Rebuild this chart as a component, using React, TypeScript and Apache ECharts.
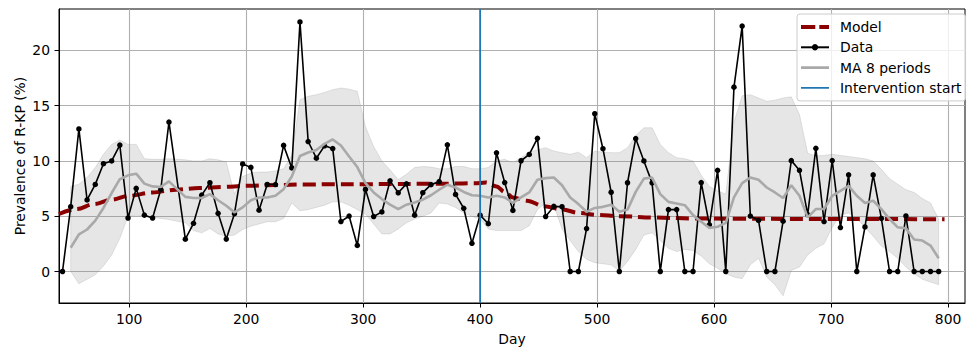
import React, { useEffect, useRef } from "react";
import * as echarts from "echarts";

// Weekly observation days (week of day 141 has no observation)
const days = [
  43, 50, 57, 64, 71, 78, 85, 92, 99, 106, 113, 120, 127, 134,
  148, 155, 162, 169, 176, 183, 190, 197, 204, 211, 218, 225, 232, 239, 246,
  253, 260, 267, 274, 281, 288, 295, 302, 309, 316, 323, 330, 337, 344, 351,
  358, 365, 372, 379, 386, 393, 400, 407, 414, 421, 428, 435, 442, 449, 456,
  463, 470, 477, 484, 491, 498, 505, 512, 519, 526, 533, 540, 547, 554, 561, 568, 575, 582,
  589, 596, 603, 610, 617, 624, 631, 638, 645, 652, 659, 666, 673, 680, 687, 694,
  701, 708, 715, 722, 729, 736, 743, 750, 757, 764, 771, 778, 785, 792,
];

const prevalence = [
  0, 5.86, 12.9, 6.47, 7.88, 9.75, 10.0, 11.44, 4.84, 7.52, 5.1, 4.84, 7.42, 13.52,
  2.92, 4.36, 6.91, 8.03, 5.26, 2.93, 5.23, 9.73, 9.42, 5.55, 7.88, 7.87, 11.41, 9.37, 22.58,
  11.76, 10.25, 11.37, 11.12, 4.52, 5.02, 2.36, 7.43, 4.97, 5.39, 8.2, 7.12, 7.93, 5.09, 7.13,
  7.86, 8.13, 11.46, 6.97, 5.72, 2.55, 5.09, 4.33, 10.74, 8.05, 5.53, 10.02, 10.59, 12.05, 4.97,
  5.89, 5.86, 0, 0, 3.88, 14.28, 11.11, 7.17, 0, 8.03, 12.03, 10.0, 8.02, 0, 5.6, 5.6, 0, 0,
  8.05, 4.22, 9.15, 0, 16.68, 22.21, 5.02, 4.62, 0, 0, 4.55, 10.03, 9.16, 5.15, 11.14, 4.52,
  10.04, 3.98, 8.75, 0, 4.03, 8.74, 4.8, 0, 0, 5.03, 0, 0, 0, 0,
];

const movingAverage = [
  null, 2.15, 3.35, 3.8, 4.6, 5.75, 7.1, 8.35, 8.7, 8.85, 7.95, 7.7, 7.65, 8.15,
  6.75, 6.65, 6.65, 7.0, 6.45, 5.95, 5.35, 5.8, 6.45, 6.7, 6.7, 6.85, 7.45, 8.6, 10.45,
  10.76, 11.0, 11.55, 11.95, 11.4, 10.4, 9.45, 8.0, 7.15, 6.55, 6.05, 5.65, 6.05, 6.25, 6.5,
  6.9, 7.4, 7.85, 7.6, 7.2, 6.9, 6.85, 6.7, 6.85, 6.7, 6.2, 6.7, 7.15, 8.3, 8.45,
  8.5, 7.8, 6.7, 6.1, 5.4, 5.75, 5.85, 6.05, 5.4, 5.6, 7.2, 8.4, 8.5, 7.0, 6.3, 6.15, 6.0, 5.1,
  4.5, 3.95, 4.05, 4.4, 6.7, 8.0, 8.5, 8.3, 7.6, 7.15, 6.65, 7.8, 6.85, 4.9, 5.65, 5.65,
  6.85, 7.3, 7.75, 6.85, 6.2, 6.4, 5.65, 4.75, 4.0, 3.9, 2.9, 2.8, 2.35, 1.2,
];

const bandUpper = [
  null, 7.7, 7.9, 8.5, 9.4, 10.6, 11.5, 11.9, 11.5, 11.5, 10.2, 10.15, 10.15, 10.2,
  10.1, 10.0, 10.0, 10.2, 10.1, 9.9, 7.0, 8.6, 8.9, 9.0, 9.0, 9.1, 9.3, 10.5, 15.55,
  15.85, 16.0, 16.2, 16.45, 16.6, 16.5, 16.3, 13.1, 11.3, 10.0, 9.2, 8.3, 8.8, 9.4, 9.5,
  9.45, 9.3, 9.3, 9.5, 9.5, 9.3, 9.3, 9.4, 10.0, 10.15, 9.85, 10.3, 10.8, 11.0, 11.2,
  10.9, 10.75, 10.6, 10.8, 10.3, 10.9, 10.8, 10.75, 10.75, 11.2, 12.3, 13.0, 13.0, 11.5, 10.75, 10.3, 10.2, 10.0,
  8.7, 7.7, 7.3, 7.0, 13.5, 15.9, 16.0, 15.7, 15.4, 15.5, 15.7, 15.8, 14.2, 10.7, 10.45, 10.5,
  10.6, 10.5, 10.4, 10.3, 10.2, 10.0, 9.25, 8.4, 7.9, 7.4, 7.15, 6.6, 6.2, 4.75,
];

const bandLower = [
  null, 0.0, -1.1, -0.7, -0.3, 0.5, 1.5, 3.0, 5.0, 5.1, 5.0, 4.9, 4.8, 4.7,
  4.4, 3.7, 3.5, 3.9, 3.4, 3.2, 3.3, 3.8, 4.1, 4.3, 4.5, 4.5, 4.8, 6.2, 5.5,
  5.6, 5.8, 6.0, 6.3, 6.3, 6.0, 5.6, 5.2, 4.3, 3.4, 3.4, 3.85, 4.4, 4.75, 5.0,
  5.3, 6.2, 6.1, 5.8, 5.3, 5.0, 4.75, 3.85, 3.7, 3.7, 3.7, 3.7, 4.15, 5.6, 6.2,
  6.0, 3.85, 2.8, 1.8, 1.1, 0.8, 0.7, 0.6, 0.05, 0.9, 2.0, 3.3, 3.5, 2.8, 2.1, 1.8, 2.0, 1.9,
  1.4, 0.7, 0.3, -0.2, -0.5, -0.65, 0.6, 1.2, -0.5, -1.2, -2.2, 0.1, 0.4, 1.5, 2.1, 2.5,
  4.0, 5.1, 5.3, 4.8, 4.0, 3.2, 2.3, 1.8, 1.2, 0.4, -0.2, -0.7, -0.95, -1.2,
];

const modelDays = [
  40, 55, 70, 85, 100, 120, 140, 160, 180, 200, 225, 250, 275, 300, 325, 350, 375, 395,
  405, 414, 421, 428, 440, 455, 470, 485, 500, 520, 550, 580, 620, 700, 797,
];
const modelValues = [
  5.2, 5.65, 6.1, 6.5, 6.85, 7.15, 7.4, 7.55, 7.65, 7.75, 7.82, 7.87, 7.9, 7.9, 7.92, 7.93, 7.95, 7.98,
  8.05, 7.7, 7.2, 6.7, 6.4, 5.9, 5.6, 5.3, 5.12, 5.0, 4.88, 4.8, 4.77, 4.75, 4.73,
];

const xTicks = [100, 200, 300, 400, 500, 600, 700, 800];
const yTicks = [0, 5, 10, 15, 20];
const interventionDay = 400;
const xRange = [40, 814.5];
const yRange = [-2.85, 23.75];

const FONT = "DejaVu Sans";

// legend glyphs (28 x 8 boxes; the tiny corner squares fix the bounding box)
const CORNERS = "M0,0H0.01V0.01H0Z M27.99,7.99H28V8H27.99Z";
const ICON_MODEL = `path://${CORNERS} M0,2H14.3V6H0Z M18.3,2H28V6H18.3Z`;
const ICON_MA = `path://${CORNERS} M0,2.6H28V5.4H0Z`;
const ICON_INTERVENTION = `path://${CORNERS} M0,3.1H28V4.9H0Z`;

export default function App() {
  const ref = useRef<HTMLDivElement>(null);

  useEffect(() => {
    const chart = echarts.init(ref.current!, null, { renderer: "svg" });

    const dataPairs = days.map((d, i) => [d, prevalence[i]]);
    const maPairs = days
      .map((d, i) => [d, movingAverage[i]])
      .filter((p) => p[1] !== null);
    const modelPairs = modelDays.map((d, i) => [d, modelValues[i]]);

    const option: any = {
      animation: false,
      grid: {
        left: 59,
        top: 9,
        width: 906,
        height: 295.3,
        show: true,
        borderColor: "#000",
        borderWidth: 1,
        backgroundColor: "transparent",
      },
      legend: {
        orient: "vertical",
        left: 797,
        top: 14,
        padding: [5, 4, 5, 3],
        itemWidth: 28,
        itemHeight: 8,
        itemGap: 4.3,
        borderColor: "#cccccc",
        borderWidth: 1,
        borderRadius: 3,
        backgroundColor: "rgba(255,255,255,0.8)",
        data: [
          { name: "Model", icon: ICON_MODEL },
          { name: "Data" },
          { name: "MA 8 periods", icon: ICON_MA },
          { name: "Intervention start", icon: ICON_INTERVENTION },
        ],
        textStyle: {
          fontFamily: FONT,
          fontSize: 13.9,
          color: "#000",
          lineHeight: 16,
          padding: [0, 0, 0, 6],
        },
      },
      xAxis: {
        type: "value",
        min: xRange[0],
        max: xRange[1],
        name: "Day",
        nameLocation: "middle",
        nameGap: 29,
        nameMoveOverlap: false,
        nameTextStyle: { fontFamily: FONT, fontSize: 13.9, color: "#000" },
        axisLine: { show: true, onZero: false, lineStyle: { color: "#000", width: 1 } },
        axisTick: {
          show: true,
          inside: false,
          length: 4.5,
          customValues: xTicks,
          lineStyle: { color: "#000", width: 1 },
        },
        axisLabel: {
          customValues: xTicks,
          fontFamily: FONT,
          fontSize: 13.9,
          color: "#000",
          margin: 9,
        },
        splitLine: { show: true, lineStyle: { color: "#b0b0b0", width: 1.1 } },
      },
      yAxis: {
        type: "value",
        min: yRange[0],
        max: yRange[1],
        name: "Prevalence of R-KP (%)",
        nameLocation: "middle",
        nameRotate: 90,
        nameGap: 32,
        nameMoveOverlap: false,
        nameTextStyle: { fontFamily: FONT, fontSize: 13.9, color: "#000" },
        axisLine: { show: true, onZero: false, lineStyle: { color: "#000", width: 1 } },
        axisTick: {
          show: true,
          inside: false,
          length: 4.5,
          customValues: yTicks,
          lineStyle: { color: "#000", width: 1 },
        },
        axisLabel: {
          customValues: yTicks,
          fontFamily: FONT,
          fontSize: 13.9,
          color: "#000",
          margin: 9,
        },
        splitLine: { show: true, lineStyle: { color: "#b0b0b0", width: 1.1 } },
      },
      series: [
        {
          type: "custom",
          name: "band",
          silent: true,
          clip: true,
          z: 1,
          encode: { x: 0, y: 1 },
          data: [[days[1], bandLower[1]]],
          renderItem: (_params: any, api: any) => {
            const pts: number[][] = [];
            for (let i = 0; i < days.length; i++) {
              if (bandUpper[i] !== null) pts.push(api.coord([days[i], bandUpper[i]]));
            }
            for (let i = days.length - 1; i >= 0; i--) {
              if (bandLower[i] !== null) pts.push(api.coord([days[i], bandLower[i]]));
            }
            return {
              type: "polygon",
              shape: { points: pts },
              style: {
                fill: "rgba(128,128,128,0.2)",
                stroke: "rgba(128,128,128,0.2)",
                lineWidth: 1,
              },
            };
          },
        },
        {
          type: "line",
          name: "Model",
          data: modelPairs,
          smooth: 0.35,
          smoothMonotone: "x",
          symbol: "none",
          z: 3,
          lineStyle: { color: "#8b0000", width: 4, type: [13, 6], cap: "butt" },
          itemStyle: { color: "#8b0000" },
        },
        {
          type: "line",
          name: "Data",
          data: dataPairs,
          symbol: "circle",
          symbolSize: 5.5,
          showSymbol: true,
          z: 4,
          lineStyle: { color: "#000", width: 1.6 },
          itemStyle: { color: "#000" },
        },
        {
          type: "line",
          name: "MA 8 periods",
          data: maPairs,
          symbol: "none",
          z: 5,
          lineStyle: { color: "#a9a9a9", width: 2.6 },
          itemStyle: { color: "#a9a9a9" },
        },
        {
          type: "line",
          name: "Intervention start",
          data: [
            [interventionDay, yRange[0]],
            [interventionDay, yRange[1]],
          ],
          symbol: "none",
          z: 6,
          lineStyle: { color: "#1f77b4", width: 1.8 },
          itemStyle: { color: "#1f77b4" },
        },
      ],
    };

    chart.setOption(option);
    return () => chart.dispose();
  }, []);

  return (
    <div
      ref={ref}
      style={{ position: "absolute", left: 0, top: 0, width: 968, height: 351 }}
    />
  );
}
